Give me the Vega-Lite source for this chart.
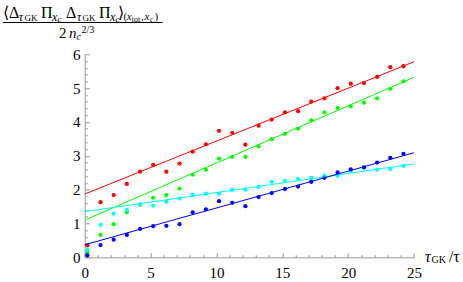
{
  "$schema": "https://vega.github.io/schema/vega-lite/v6.json",
  "width": 329.3,
  "height": 203,
  "autosize": "none",
  "padding": {"left": 84.7, "top": 54.3, "right": 49, "bottom": 24.7},
  "config": {"view": {"stroke": null}, "text": {"font": "Liberation Serif", "align": "left", "baseline": "alphabetic", "color": "#000000"}},
  "data": {"values": [{}]},
  "datasets": {
    "pts": [
      {"s":"red","x":0.2,"y":0.35},{"s":"red","x":1.2,"y":1.63},{"s":"red","x":2.2,"y":1.84},{"s":"red","x":3.2,"y":2.17},{"s":"red","x":4.2,"y":2.53},{"s":"red","x":5.2,"y":2.73},{"s":"red","x":6.2,"y":2.53},{"s":"red","x":7.2,"y":2.77},{"s":"red","x":8.2,"y":3.12},{"s":"red","x":9.2,"y":3.34},{"s":"red","x":10.2,"y":3.74},{"s":"red","x":11.2,"y":3.68},{"s":"red","x":12.2,"y":3.33},{"s":"red","x":13.2,"y":3.89},{"s":"red","x":14.2,"y":4.07},{"s":"red","x":15.2,"y":4.28},{"s":"red","x":16.2,"y":4.32},{"s":"red","x":17.2,"y":4.6},{"s":"red","x":18.2,"y":4.7},{"s":"red","x":19.2,"y":5.0},{"s":"red","x":20.2,"y":5.13},{"s":"red","x":21.2,"y":5.15},{"s":"red","x":22.2,"y":5.33},{"s":"red","x":23.2,"y":5.62},{"s":"red","x":24.2,"y":5.65},
      {"s":"green","x":0.2,"y":0.14},{"s":"green","x":1.2,"y":0.66},{"s":"green","x":2.2,"y":0.98},{"s":"green","x":3.2,"y":1.33},{"s":"green","x":4.2,"y":1.55},{"s":"green","x":5.2,"y":1.76},{"s":"green","x":6.2,"y":1.84},{"s":"green","x":7.2,"y":2.03},{"s":"green","x":8.2,"y":2.44},{"s":"green","x":9.2,"y":2.59},{"s":"green","x":10.2,"y":2.92},{"s":"green","x":11.2,"y":2.97},{"s":"green","x":12.2,"y":2.97},{"s":"green","x":13.2,"y":3.28},{"s":"green","x":14.2,"y":3.49},{"s":"green","x":15.2,"y":3.65},{"s":"green","x":16.2,"y":3.8},{"s":"green","x":17.2,"y":4.05},{"s":"green","x":18.2,"y":4.28},{"s":"green","x":19.2,"y":4.42},{"s":"green","x":20.2,"y":4.46},{"s":"green","x":21.2,"y":4.57},{"s":"green","x":22.2,"y":4.7},{"s":"green","x":23.2,"y":4.98},{"s":"green","x":24.2,"y":5.2},
      {"s":"cyan","x":0.2,"y":0.22},{"s":"cyan","x":1.2,"y":0.96},{"s":"cyan","x":2.2,"y":1.29},{"s":"cyan","x":3.2,"y":1.4},{"s":"cyan","x":4.2,"y":1.57},{"s":"cyan","x":5.2,"y":1.53},{"s":"cyan","x":6.2,"y":1.64},{"s":"cyan","x":7.2,"y":1.74},{"s":"cyan","x":8.2,"y":1.85},{"s":"cyan","x":9.2,"y":1.88},{"s":"cyan","x":10.2,"y":1.88},{"s":"cyan","x":11.2,"y":1.99},{"s":"cyan","x":12.2,"y":2.0},{"s":"cyan","x":13.2,"y":2.08},{"s":"cyan","x":14.2,"y":2.23},{"s":"cyan","x":15.2,"y":2.26},{"s":"cyan","x":16.2,"y":2.32},{"s":"cyan","x":17.2,"y":2.35},{"s":"cyan","x":18.2,"y":2.42},{"s":"cyan","x":19.2,"y":2.41},{"s":"cyan","x":20.2,"y":2.56},{"s":"cyan","x":21.2,"y":2.65},{"s":"cyan","x":22.2,"y":2.59},{"s":"cyan","x":23.2,"y":2.61},{"s":"cyan","x":24.2,"y":2.7},
      {"s":"blue","x":0.2,"y":0.06},{"s":"blue","x":1.2,"y":0.36},{"s":"blue","x":2.2,"y":0.52},{"s":"blue","x":3.2,"y":0.66},{"s":"blue","x":4.2,"y":0.84},{"s":"blue","x":5.2,"y":0.92},{"s":"blue","x":6.2,"y":0.93},{"s":"blue","x":7.2,"y":0.98},{"s":"blue","x":8.2,"y":1.33},{"s":"blue","x":9.2,"y":1.42},{"s":"blue","x":10.2,"y":1.66},{"s":"blue","x":11.2,"y":1.61},{"s":"blue","x":12.2,"y":1.51},{"s":"blue","x":13.2,"y":1.78},{"s":"blue","x":14.2,"y":1.9},{"s":"blue","x":15.2,"y":2.02},{"s":"blue","x":16.2,"y":2.09},{"s":"blue","x":17.2,"y":2.23},{"s":"blue","x":18.2,"y":2.35},{"s":"blue","x":19.2,"y":2.51},{"s":"blue","x":20.2,"y":2.6},{"s":"blue","x":21.2,"y":2.66},{"s":"blue","x":22.2,"y":2.8},{"s":"blue","x":23.2,"y":2.94},{"s":"blue","x":24.2,"y":3.06}
    ],
    "fits": [
      {"s":"red","x":0,"y":1.87},{"s":"red","x":25,"y":5.78},
      {"s":"green","x":0,"y":1.1},{"s":"green","x":25,"y":5.32},
      {"s":"cyan","x":0,"y":1.35},{"s":"cyan","x":25,"y":2.76},
      {"s":"blue","x":0,"y":0.37},{"s":"blue","x":25,"y":3.09}
    ]
  },
  "layer": [
    {
      "data": {"name": "pts"},
      "mark": {"type": "circle", "size": 18, "opacity": 1},
      "encoding": {
        "x": {"field": "x", "type": "quantitative",
          "scale": {"domain": [0, 25], "nice": false, "zero": false},
          "axis": {"title": null, "grid": false, "tickCount": 200, "values": [0,1,2,3,4,5,6,7,8,9,10,11,12,13,14,15,16,17,18,19,20,21,22,23,24,25],
            "labelExpr": "datum.value % 5 === 0 ? datum.label : ''",
            "format": "d",
            "tickSize": -4.6,
            "tickDash": {"condition": {"test": "datum.value % 5 === 0", "value": [8, 1]}, "value": [2.6, 20]},
            "labelPadding": 13, "labelFont": "Liberation Serif", "labelFontSize": 15, "labelColor": "#000000",
            "labelOverlap": false, "labelFlush": false, "labelBound": false, "domainColor": "#999999", "tickColor": "#999999", "domainWidth": 1, "tickWidth": 1}},
        "y": {"field": "y", "type": "quantitative",
          "scale": {"domain": [0, 6], "nice": false, "zero": false},
          "axis": {"title": null, "grid": false, "tickCount": 200, "values": [0,0.2,0.4,0.6,0.8,1,1.2,1.4,1.6,1.8,2,2.2,2.4,2.6,2.8,3,3.2,3.4,3.6,3.8,4,4.2,4.4,4.6,4.8,5,5.2,5.4,5.6,5.8,6],
            "labelExpr": "abs(datum.value - round(datum.value)) < 0.001 ? format(datum.value, 'd') : ''",
            "tickSize": -4.7,
            "tickDash": {"condition": {"test": "abs(datum.value - round(datum.value)) < 0.001", "value": [8, 1]}, "value": [2.7, 20]},
            "labelPadding": 9.4, "labelFont": "Liberation Serif", "labelFontSize": 15, "labelColor": "#000000",
            "labelOverlap": false, "labelFlush": false, "labelBound": false, "domainColor": "#999999", "tickColor": "#999999", "domainWidth": 1, "tickWidth": 1}},
        "color": {"field": "s", "type": "nominal", "scale": {"domain": ["red","green","cyan","blue"], "range": ["#ff0000","#00ff00","#00ffff","#0000ff"]}, "legend": null}
      }
    },
    {
      "data": {"name": "fits"},
      "mark": {"type": "line", "strokeWidth": 1},
      "encoding": {
        "x": {"field": "x", "type": "quantitative"},
        "y": {"field": "y", "type": "quantitative"},
        "color": {"field": "s", "type": "nominal", "legend": null}
      }
    },
    {"mark": {"type": "text", "text": "⟨Δ", "fontSize": 16}, "encoding": {"x": {"datum": -6.2, "type": "quantitative"}, "y": {"datum": 7.064, "type": "quantitative"}}},
    {"mark": {"type": "text", "text": "τ", "fontSize": 12, "fontStyle": "italic"}, "encoding": {"x": {"datum": -5.01, "type": "quantitative"}, "y": {"datum": 6.999, "type": "quantitative"}}},
    {"mark": {"type": "text", "text": "GK", "fontSize": 9}, "encoding": {"x": {"datum": -4.57, "type": "quantitative"}, "y": {"datum": 6.975, "type": "quantitative"}}},
    {"mark": {"type": "text", "text": "Π", "fontSize": 16}, "encoding": {"x": {"datum": -3.318, "type": "quantitative"}, "y": {"datum": 7.064, "type": "quantitative"}}},
    {"mark": {"type": "text", "text": "x", "fontSize": 12, "fontStyle": "italic"}, "encoding": {"x": {"datum": -2.483, "type": "quantitative"}, "y": {"datum": 6.999, "type": "quantitative"}}},
    {"mark": {"type": "text", "text": "c", "fontSize": 9, "fontStyle": "italic"}, "encoding": {"x": {"datum": -2.065, "type": "quantitative"}, "y": {"datum": 6.969, "type": "quantitative"}}},
    {"mark": {"type": "text", "text": "Δ", "fontSize": 16}, "encoding": {"x": {"datum": -1.42, "type": "quantitative"}, "y": {"datum": 7.064, "type": "quantitative"}}},
    {"mark": {"type": "text", "text": "τ", "fontSize": 12, "fontStyle": "italic"}, "encoding": {"x": {"datum": -0.585, "type": "quantitative"}, "y": {"datum": 6.999, "type": "quantitative"}}},
    {"mark": {"type": "text", "text": "GK", "fontSize": 9}, "encoding": {"x": {"datum": -0.167, "type": "quantitative"}, "y": {"datum": 6.975, "type": "quantitative"}}},
    {"mark": {"type": "text", "text": "Π", "fontSize": 16}, "encoding": {"x": {"datum": 1.086, "type": "quantitative"}, "y": {"datum": 7.064, "type": "quantitative"}}},
    {"mark": {"type": "text", "text": "x", "fontSize": 12, "fontStyle": "italic"}, "encoding": {"x": {"datum": 1.921, "type": "quantitative"}, "y": {"datum": 6.999, "type": "quantitative"}}},
    {"mark": {"type": "text", "text": "c", "fontSize": 9, "fontStyle": "italic"}, "encoding": {"x": {"datum": 2.338, "type": "quantitative"}, "y": {"datum": 6.969, "type": "quantitative"}}},
    {"mark": {"type": "text", "text": "⟩", "fontSize": 16}, "encoding": {"x": {"datum": 2.566, "type": "quantitative"}, "y": {"datum": 7.064, "type": "quantitative"}}},
    {"mark": {"type": "text", "text": "(", "fontSize": 11}, "encoding": {"x": {"datum": 2.95, "type": "quantitative"}, "y": {"datum": 7.014, "type": "quantitative"}}},
    {"mark": {"type": "text", "text": "x", "fontSize": 11, "fontStyle": "italic"}, "encoding": {"x": {"datum": 3.2, "type": "quantitative"}, "y": {"datum": 7.014, "type": "quantitative"}}},
    {"mark": {"type": "text", "text": "tot", "fontSize": 8}, "encoding": {"x": {"datum": 3.58, "type": "quantitative"}, "y": {"datum": 6.969, "type": "quantitative"}}},
    {"mark": {"type": "text", "text": ",", "fontSize": 11}, "encoding": {"x": {"datum": 4.274, "type": "quantitative"}, "y": {"datum": 7.014, "type": "quantitative"}}},
    {"mark": {"type": "text", "text": "x", "fontSize": 11, "fontStyle": "italic"}, "encoding": {"x": {"datum": 4.54, "type": "quantitative"}, "y": {"datum": 7.014, "type": "quantitative"}}},
    {"mark": {"type": "text", "text": "c", "fontSize": 8, "fontStyle": "italic"}, "encoding": {"x": {"datum": 4.957, "type": "quantitative"}, "y": {"datum": 6.969, "type": "quantitative"}}},
    {"mark": {"type": "text", "text": ")", "fontSize": 11}, "encoding": {"x": {"datum": 5.299, "type": "quantitative"}, "y": {"datum": 7.014, "type": "quantitative"}}},
    {"mark": {"type": "rule", "color": "#000000", "strokeWidth": 1}, "encoding": {"x": {"datum": -6.2, "type": "quantitative"}, "x2": {"datum": 5.91}, "y": {"datum": 6.94, "type": "quantitative"}}},
    {"mark": {"type": "text", "text": "2", "fontSize": 15}, "encoding": {"x": {"datum": -1.951, "type": "quantitative"}, "y": {"datum": 6.491, "type": "quantitative"}}},
    {"mark": {"type": "text", "text": "n", "fontSize": 15, "fontStyle": "italic"}, "encoding": {"x": {"datum": -1.192, "type": "quantitative"}, "y": {"datum": 6.491, "type": "quantitative"}}},
    {"mark": {"type": "text", "text": "c", "fontSize": 10, "fontStyle": "italic"}, "encoding": {"x": {"datum": -0.623, "type": "quantitative"}, "y": {"datum": 6.414, "type": "quantitative"}}},
    {"mark": {"type": "text", "text": "2/3", "fontSize": 10}, "encoding": {"x": {"datum": -0.243, "type": "quantitative"}, "y": {"datum": 6.63, "type": "quantitative"}}},
    {"mark": {"type": "text", "text": "τ", "fontSize": 16, "fontStyle": "italic"}, "encoding": {"x": {"datum": 25.835, "type": "quantitative"}, "y": {"datum": -0.13, "type": "quantitative"}}},
    {"mark": {"type": "text", "text": "GK", "fontSize": 10}, "encoding": {"x": {"datum": 26.33, "type": "quantitative"}, "y": {"datum": -0.177, "type": "quantitative"}}},
    {"mark": {"type": "text", "text": "/τ", "fontSize": 16}, "encoding": {"x": {"datum": 27.65, "type": "quantitative"}, "y": {"datum": -0.13, "type": "quantitative"}}}
  ]
}
